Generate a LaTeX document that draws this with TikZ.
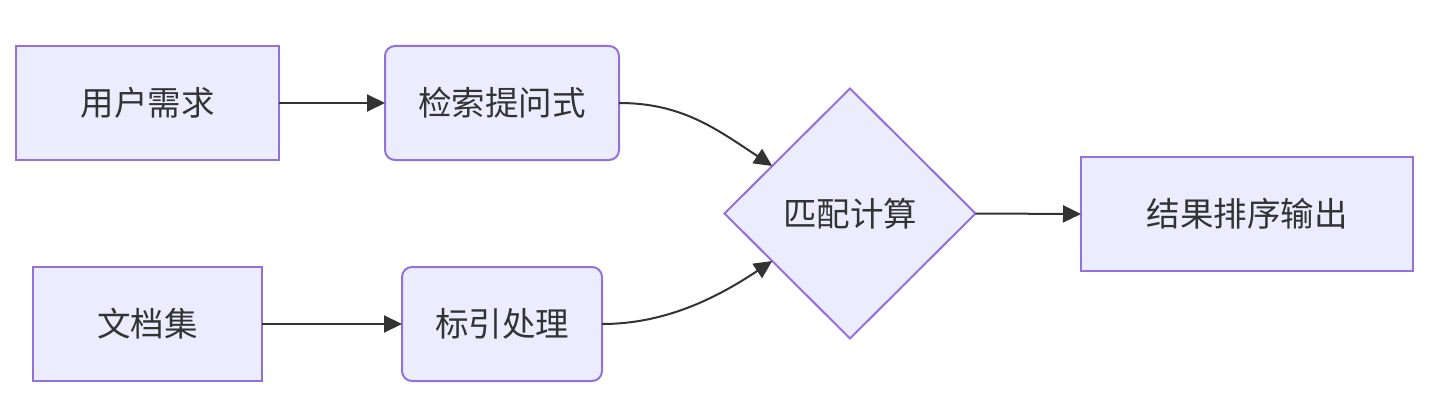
\documentclass[tikz,border=0pt]{standalone}
\usepackage{fontspec}
\newfontfamily\cjk{Noto Sans CJK SC}
\usetikzlibrary{arrows.meta,shapes.geometric,calc}
\definecolor{nodefill}{HTML}{ECECFF}
\definecolor{nodeline}{HTML}{9370DB}
\definecolor{txt}{HTML}{333333}
\definecolor{edge}{HTML}{333333}
\tikzset{
  base/.style={draw=nodeline, fill=nodefill, line width=2pt, outer sep=0pt, inner sep=0pt,
    text=txt, font=\cjk\fontsize{33.5}{37}\selectfont, minimum height=114pt},
  sq/.style={base, rectangle},
  rnd/.style={base, rectangle, rounded corners=10pt},
  dia/.style={base, diamond, minimum width=251pt, minimum height=250pt, aspect=1},
  conn/.style={draw=edge, line width=2pt, -{Triangle[length=18pt,width=17pt]}}
}
\begin{document}
\begin{tikzpicture}[x=1pt,y=-1pt]
\useasboundingbox[fill=white] (0,0) rectangle (1437,417);
\node[sq, minimum width=263pt] (a) at (147.5,103) {用户需求};
\node[rnd, minimum width=234pt] (b) at (502,103) {检索提问式};
\node[sq, minimum width=229pt] (c) at (147.5,324) {文档集};
\node[rnd, minimum width=200pt] (d) at (502,324) {标引处理};
\node[dia] (m) at (850,213.5) {匹配计算};
\node[sq, minimum width=332pt] (e) at (1247,214) {结果排序输出};
\coordinate (mu) at ($(m.west)!0.38!(m.north)$);
\coordinate (ml) at ($(m.west)!0.38!(m.south)$);
\draw[conn] (a.east) -- (b.west);
\draw[conn] (c.east) -- (d.west);
\draw[conn] (m.east) -- (e.west);
\draw[conn] (b.east) .. controls +(62,0) and +(-57,-38) .. (mu);
\draw[conn] (d.east) .. controls +(62,0) and +(-57,38) .. (ml);
\end{tikzpicture}
\end{document}
